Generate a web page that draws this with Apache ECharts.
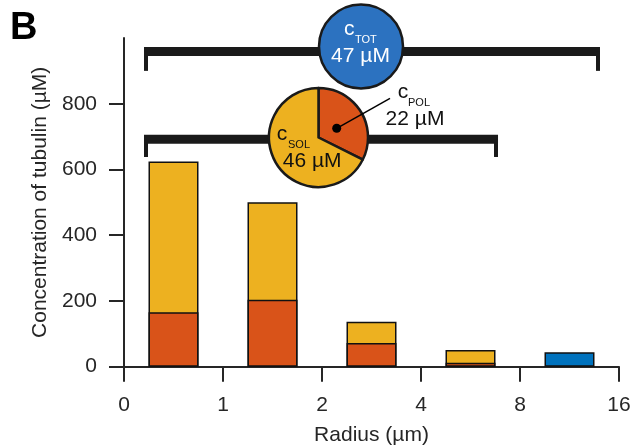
<!DOCTYPE html>
<html>
<head>
<meta charset="utf-8">
<script src="https://cdn.jsdelivr.net/npm/echarts@6/dist/echarts.min.js"></script>
<style>html,body{margin:0;padding:0;background:#fff}#c{width:634px;height:447px}</style>
</head>
<body>
<div id="c"></div>
<script>
// ---- data ----
const xTickLabels = ['0', '1', '2', '4', '8', '16'];
const binCenters = [0.5, 1.5, 2.5, 3.5];
const polymerConc = [166, 204, 72, 12];        // orange (lower part)
const solubleConc = [458, 296, 65, 39];        // yellow (upper part)
const totalBinCenter = [4.5];
const totalConc = [44];                        // blue bar
const yTicks = [0, 200, 400, 600, 800];
const cTOT = 47, cSOL = 46, cPOL = 22;
// brackets: [x start, x end, bar level, tick end level] in data units
const brackets = [[0.202, 4.808, 959, 900], [0.202, 3.778, 692, 638]];

const FONT = '"Liberation Sans", Arial, Helvetica, sans-serif';
const TXT = '#262626';
const YEL = '#EDB120', ORA = '#D95319', BLU = '#0072BD', BLU2 = '#2C72C0';

const chart = echarts.init(document.getElementById('c'), null, {renderer: 'canvas'});

function txt(text, x, y, size, opts) {
  return {
    type: 'text', x: x, y: y, z: 100,
    style: Object.assign({text: text, fontSize: size, fontFamily: FONT, fill: '#111',
      textAlign: 'left', textVerticalAlign: 'middle'}, (opts || {}))
  };
}

// yellow bar drawn to the stacked top (polymer + soluble), orange drawn over its lower part
const stackedTop = binCenters.map((x, i) => [x, polymerConc[i] + solubleConc[i]]);

const option = {
  animation: false,
  backgroundColor: '#fff',
  textStyle: {fontFamily: FONT},
  grid: {left: 124, right: 15, top: 38, bottom: 80.3, containLabel: false, outerBoundsMode: 'none'},
  xAxis: {
    type: 'value', min: 0, max: 5, interval: 1,
    name: 'Radius (µm)', nameLocation: 'middle', nameGap: 58,
    nameTextStyle: {fontSize: 21, color: TXT, fontFamily: FONT},
    axisLine: {show: true, lineStyle: {color: TXT, width: 2}},
    axisTick: {show: true, length: 15, lineStyle: {color: TXT, width: 2}},
    axisLabel: {fontSize: 21, color: TXT, margin: 28, fontFamily: FONT,
      formatter: v => xTickLabels[Math.round(v)] || ''},
    splitLine: {show: false}
  },
  yAxis: {
    type: 'value', min: 0, max: 1000, interval: 200,
    name: 'Concentration of tubulin (µM)', nameLocation: 'middle', nameGap: 68,
    nameTextStyle: {fontSize: 21, color: TXT, fontFamily: FONT},
    axisLine: {show: true, lineStyle: {color: TXT, width: 2}},
    axisTick: {show: true, length: 15, lineStyle: {color: TXT, width: 2}, customValues: yTicks},
    axisLabel: {fontSize: 21, color: TXT, margin: 27, fontFamily: FONT, customValues: yTicks,
      formatter: v => (yTicks.indexOf(v) >= 0 ? String(v) : '')},
    splitLine: {show: false}
  },
  series: [
    {
      type: 'bar', barWidth: 50, barGap: '-100%', silent: true, z: 2,
      data: stackedTop,
      itemStyle: {color: YEL, borderColor: '#111', borderWidth: 1.5}
    },
    {
      type: 'bar', barWidth: 50, barGap: '-100%', silent: true, z: 3,
      data: binCenters.map((x, i) => [x, polymerConc[i]]),
      itemStyle: {color: ORA, borderColor: '#111', borderWidth: 1.5}
    },
    {
      type: 'bar', barWidth: 50, barGap: '-100%', silent: true, z: 3,
      data: totalBinCenter.map((x, i) => [x, totalConc[i]]),
      itemStyle: {color: BLU, borderColor: '#111', borderWidth: 1.5}
    },
    {
      type: 'custom', silent: true, z: 5, clip: false,
      data: brackets,
      renderItem: function (params, api) {
        const p0 = api.coord([api.value(0), api.value(2)]);
        const p1 = api.coord([api.value(1), api.value(2)]);
        const pt = api.coord([api.value(0), api.value(3)]);
        const th = 9, tw = 4;
        const col = '#1a1a1a';
        return {
          type: 'group',
          children: [
            {type: 'rect', shape: {x: p0[0], y: p0[1] - th / 2, width: p1[0] - p0[0], height: th}, style: {fill: col}},
            {type: 'rect', shape: {x: p0[0], y: p0[1], width: tw, height: pt[1] - p0[1]}, style: {fill: col}},
            {type: 'rect', shape: {x: p1[0] - tw, y: p0[1], width: tw, height: pt[1] - p0[1]}, style: {fill: col}}
          ]
        };
      }
    },
    {
      type: 'pie', silent: true, z: 10, center: [361, 46.5], radius: 42,
      label: {show: false}, labelLine: {show: false},
      data: [{value: cTOT, name: 'cTOT', itemStyle: {color: BLU2}}],
      itemStyle: {borderColor: '#1a1a1a', borderWidth: 2.5}
    },
    {
      type: 'pie', silent: true, z: 10, center: [318.5, 137.5], radius: 49.5,
      startAngle: 90, clockwise: true,
      label: {show: false}, labelLine: {show: false},
      data: [
        {value: cPOL, name: 'cPOL', itemStyle: {color: ORA}},
        {value: cSOL, name: 'cSOL', itemStyle: {color: YEL}}
      ],
      itemStyle: {borderColor: '#1a1a1a', borderWidth: 2.5}
    }
  ],
  graphic: [
    txt('B', 10, 29, 38, {fontWeight: 'bold', fill: '#000'}),
    // c_TOT
    txt('c', 344, 29.4, 21, {fill: '#fff'}),
    txt('TOT', 355, 39.5, 11, {fill: '#fff'}),
    txt(cTOT + ' µM', 360.5, 56, 21, {fill: '#fff', textAlign: 'center'}),
    // c_SOL
    txt('c', 276.7, 134.4, 21),
    txt('SOL', 288, 145.2, 11),
    txt(cSOL + ' µM', 312.2, 161, 21, {textAlign: 'center'}),
    // c_POL
    txt('c', 397.7, 92.7, 21),
    txt('POL', 408, 103.2, 11),
    txt(cPOL + ' µM', 415, 119.4, 21, {textAlign: 'center'}),
    {type: 'line', z: 100, shape: {x1: 336.7, y1: 128.3, x2: 390, y2: 98.3}, style: {stroke: '#000', lineWidth: 1.5}},
    {type: 'circle', z: 100, shape: {cx: 336.7, cy: 128.3, r: 4.5}, style: {fill: '#000'}}
  ]
};
chart.setOption(option);
</script>
</body>
</html>
